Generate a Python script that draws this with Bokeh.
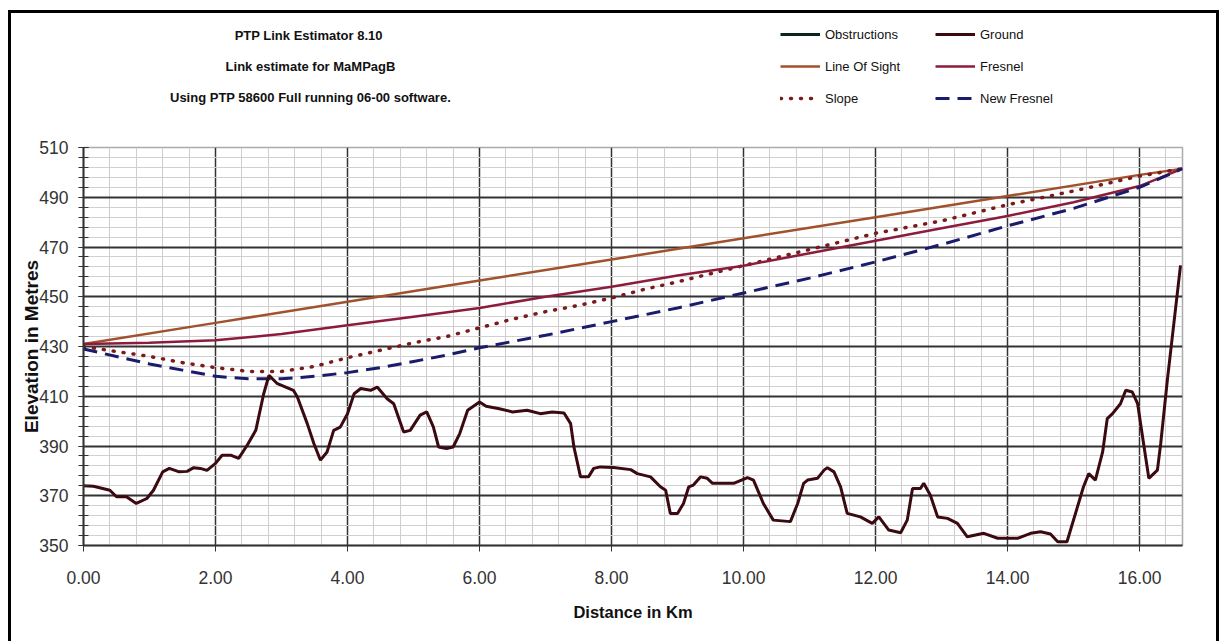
import numpy as np
from bokeh.plotting import figure
from bokeh.layouts import column
from bokeh.models import (Range1d, FixedTicker, NumeralTickFormatter, Legend, LegendItem, Label)
from bokeh.embed import file_html
from bokeh.resources import INLINE

FONT = "'Liberation Sans', Arial, sans-serif"

# ---------------- data ----------------
title_lines = ["PTP Link Estimator  8.10",
               "Link estimate for MaMPagB",
               "Using PTP 58600 Full running 06-00 software."]

x_major = [0, 2, 4, 6, 8, 10, 12, 14, 16]
y_major = [350, 370, 390, 410, 430, 450, 470, 490, 510]

ground_km = [0, 0.15, 0.4, 0.5, 0.65, 0.8, 0.96, 1.06, 1.2, 1.3, 1.45, 1.57, 1.67, 1.77, 1.87,
             2.0, 2.1, 2.23, 2.35, 2.48, 2.61, 2.73, 2.81, 2.93, 3.18, 3.24, 3.39, 3.49, 3.59,
             3.69, 3.79, 3.89, 4.0, 4.1, 4.2, 4.35, 4.45, 4.6, 4.7, 4.85, 4.95, 5.1, 5.2, 5.3,
             5.38, 5.5, 5.6, 5.7, 5.82, 6.0, 6.1, 6.3, 6.5, 6.72, 6.92, 7.1, 7.28, 7.38, 7.43,
             7.53, 7.65, 7.73, 7.83, 8.03, 8.29, 8.39, 8.59, 8.74, 8.82, 8.89, 9.0, 9.09, 9.17,
             9.24, 9.35, 9.45, 9.53, 9.85, 10.06, 10.15, 10.3, 10.45, 10.71, 10.82, 10.91,
             10.97, 11.12, 11.22, 11.27, 11.37, 11.47, 11.57, 11.77, 11.95, 12.05, 12.2, 12.38,
             12.48, 12.56, 12.68, 12.73, 12.83, 12.94, 13.09, 13.24, 13.39, 13.64, 13.85, 14.15,
             14.35, 14.5, 14.65, 14.76, 14.9, 15.15, 15.23, 15.33, 15.44, 15.51, 15.59, 15.71,
             15.79, 15.89, 15.97, 16.06, 16.14, 16.27, 16.32, 16.42, 16.62]
ground_m = [374, 373.8, 372.2, 369.6, 369.6, 366.9, 368.9, 372.2, 379.6, 381, 379.6, 379.8,
            381.3, 381, 380.2, 383, 386.3, 386.3, 385, 390.3, 396.3, 411, 418.4, 415.2, 412.4,
            409.7, 399, 391, 384.3, 387.6, 396.3, 397.6, 403, 411, 413.1, 412.4, 413.7, 409, 407,
            395.6, 396.3, 402.4, 403.7, 397.7, 389.6, 389, 389.6, 395, 404.4, 407.7, 406, 405,
            403.7, 404.4, 403, 403.7, 403.3, 399, 389.6, 377.6, 377.6, 381, 381.6, 381.4, 380.5,
            378.9, 377.6, 373.6, 372.2, 362.9, 362.9, 366.9, 373.6, 374.3, 377.6, 377, 375, 375,
            377.3, 376.3, 366.9, 360.2, 359.6, 366.9, 375, 376.3, 377, 380.3, 381.3, 379.6,
            373.6, 362.9, 361.5, 358.9, 361.5, 356.2, 355.1, 360.2, 372.9, 372.9, 375, 370.2,
            361.5, 360.9, 358.9, 353.5, 354.9, 352.9, 352.9, 354.9, 355.5, 354.6, 351.5, 351.5,
            373.6, 378.9, 376.3, 387.6, 401, 403, 407, 412.4, 411.7, 407, 391, 377, 380.3, 391,
            416.4, 462.6]

los_km = [0, 2, 4, 6, 8, 10, 12, 14, 16, 16.65]
los_m = [431, 439.5, 448, 456.5, 465, 473.5, 482, 490.5, 499, 501.5]

fresnel_km = [0, 1, 2, 3, 4, 5, 6, 7, 8, 9, 10, 11, 12, 13, 14, 15, 16, 16.65]
fresnel_m = [431, 431.5, 432.5, 435, 438.5, 442, 445.5, 450, 454, 458.5, 462.5, 467.5, 472.5,
             477.5, 482.5, 488, 494.5, 501.5]

slope_km = [0, 0.5, 1, 1.5, 2, 2.5, 3, 3.5, 4, 4.5, 5, 5.5, 6, 6.5, 7, 7.5, 8, 8.5, 9, 10, 11,
            12, 13, 14, 15, 16, 16.65]
slope_m = [430, 428, 426, 423.5, 421.5, 420, 420, 422, 425.5, 428.5, 431.5, 434, 437.5, 441,
           444, 446.5, 449.5, 453, 456, 462.5, 469, 475.5, 480.5, 487, 492.5, 498.5, 501.5]

newf_km = [0, 0.5, 1, 1.5, 2, 2.5, 3, 3.5, 4, 4.5, 5, 5.5, 6, 7, 8, 9, 10, 11, 12, 13, 14, 15,
           16, 16.65]
newf_m = [429, 426, 423, 420.5, 418, 417, 417, 418, 419.5, 421.5, 424, 426.5, 429.5, 434.5,
          440, 445.5, 451.5, 457.5, 464, 471, 478.5, 485.5, 494, 501.5]

obstr_km = []
obstr_m = []

# ---------------- styles ----------------
STYLE = {
    "Obstructions": dict(line_color="#0d2418", line_width=3),
    "Ground": dict(line_color="#3a0a10", line_width=3),
    "Line Of Sight": dict(line_color="#a0522d", line_width=2.5),
    "Fresnel": dict(line_color="#8c1c3c", line_width=2.5),
    "Slope": dict(line_color="#7a1a1a", line_width=3.5, line_dash="1 9", line_cap="round"),
    "New Fresnel": dict(line_color="#1b1b6b", line_width=3, line_dash="14 8"),
}

# page geometry (pixels)
BX0, BY0, BX1 = 11, 13, 1216          # inner edge of the outer black frame
W = BX1 - BX0
SPLIT = 135                           # page y where header ends and chart begins
FL, FT, FR, FB = 83, 147, 1182, 545   # plot frame edges

# ---------------- header (title + legend) ----------------
head = figure(width=W, height=SPLIT - BY0, output_backend="svg", toolbar_location=None,
              x_range=Range1d(FL, FR), y_range=Range1d(SPLIT, BY0),
              x_axis_type=None, y_axis_type=None,
              min_border_left=FL - BX0, min_border_right=BX1 - FR,
              min_border_top=0, min_border_bottom=0)
head.grid.visible = False
head.outline_line_color = None
head.background_fill_color = "white"
head.border_fill_color = "white"

for line, py in zip(title_lines, (35, 66, 97)):
    head.add_layout(Label(x=310, y=py, text=line, text_align="center",
                          text_baseline="middle", text_font=FONT, text_font_style="bold",
                          text_font_size="13px", text_color="#111111"))

# legend-only renderers (a single missing value each, so nothing is drawn in the header)
dummy = {name: head.line(np.array([np.nan]), np.array([np.nan]), **kw)
         for name, kw in STYLE.items()}


def make_legend(names, left_px):
    return Legend(items=[LegendItem(label=n, renderers=[dummy[n]]) for n in names],
                  location=(left_px - FL, SPLIT - 108),
                  glyph_width=40, glyph_height=20, label_height=20, spacing=12,
                  label_standoff=5, padding=0, margin=0,
                  label_text_font=FONT, label_text_font_size="13px",
                  label_text_color="#111111",
                  background_fill_alpha=0, border_line_alpha=0)


head.add_layout(make_legend(["Obstructions", "Line Of Sight", "Slope"], 780))
head.add_layout(make_legend(["Ground", "Fresnel", "New Fresnel"], 935))

# ---------------- main chart ----------------
p = figure(width=W, height=641 - SPLIT, output_backend="svg", toolbar_location=None,
           x_range=Range1d(0, 16.65), y_range=Range1d(350, 510),
           min_border_left=FL - BX0, min_border_top=FT - SPLIT, min_border_right=BX1 - FR,
           min_border_bottom=641 - FB)
p.background_fill_color = "white"
p.border_fill_color = "white"
p.outline_line_color = "#aaaaaa"
p.outline_line_width = 1.5

p.xaxis.ticker = FixedTicker(ticks=x_major, minor_ticks=[round(i * 0.4, 2) for i in range(42)])
p.yaxis.ticker = FixedTicker(ticks=y_major, minor_ticks=list(range(350, 511, 4)))
p.xaxis.formatter = NumeralTickFormatter(format="0.00")

for ax in (p.xaxis[0], p.yaxis[0]):
    ax.axis_line_color = "#333333"
    ax.axis_line_width = 2
    ax.major_tick_line_color = "#333333"
    ax.minor_tick_line_color = "#333333"
    ax.major_label_text_font = FONT
    ax.major_label_text_font_size = "17.5px"
    ax.major_label_text_color = "#333333"
    ax.axis_label_text_font = FONT
    ax.axis_label_text_font_style = "bold"
    ax.axis_label_text_color = "#111111"

p.xaxis.axis_label = "Distance in Km"
p.xaxis.axis_label_text_font_size = "16.5px"
p.xaxis.major_tick_in = 0
p.xaxis.major_tick_out = 6
p.xaxis.minor_tick_in = 0
p.xaxis.minor_tick_out = 0
p.xaxis.major_label_standoff = 19
p.xaxis.axis_label_standoff = 16

p.yaxis.axis_label = "Elevation in Metres"
p.yaxis.axis_label_text_font_size = "19px"
p.yaxis.major_tick_in = 5
p.yaxis.major_tick_out = 5
p.yaxis.minor_tick_in = 5
p.yaxis.minor_tick_out = 5
p.yaxis.major_label_standoff = 10
p.yaxis.axis_label_standoff = -6

p.xgrid.grid_line_color = "#333333"
p.xgrid.grid_line_width = 1.5
p.xgrid.minor_grid_line_color = "#d2ccd2"
p.xgrid.minor_grid_line_width = 1
p.ygrid.grid_line_color = "#333333"
p.ygrid.grid_line_width = 2
p.ygrid.minor_grid_line_color = "#d0d0d0"
p.ygrid.minor_grid_line_width = 1

p.line(obstr_km, obstr_m, **STYLE["Obstructions"])
p.line(los_km, los_m, **STYLE["Line Of Sight"])
p.line(slope_km, slope_m, **STYLE["Slope"])
p.line(fresnel_km, fresnel_m, **STYLE["Fresnel"])
p.line(newf_km, newf_m, **STYLE["New Fresnel"])
p.line(ground_km, ground_m, **STYLE["Ground"])

page = column(head, p, spacing=0,
              styles={"border-left": "3px solid black", "border-top": "3px solid black",
                      "border-right": "3px solid black", "margin-left": "8px",
                      "margin-top": "10px", "background": "white"})

open("out.html", "w").write(file_html(page, INLINE))
